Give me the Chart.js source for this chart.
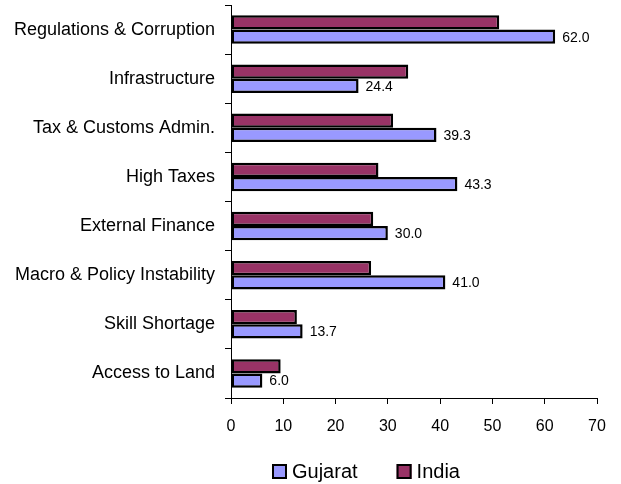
<!DOCTYPE html>
<html>
<head>
<meta charset="utf-8">
<script src="https://cdn.jsdelivr.net/npm/chart.js@4/dist/chart.umd.min.js"></script>
<style>
  html, body { margin: 0; padding: 0; background: #fff; }
  #wrap { width: 621px; height: 484px; }
</style>
</head>
<body>
<div id="wrap"><canvas id="chart" width="621" height="484"></canvas></div>
<script>
const categories = [
  'Regulations & Corruption',
  'Infrastructure',
  'Tax & Customs Admin.',
  'High Taxes',
  'External Finance',
  'Macro & Policy Instability',
  'Skill Shortage',
  'Access to Land'
];
const gujaratValues = [62.0, 24.4, 39.3, 43.3, 30.0, 41.0, 13.7, 6.0];
const indiaValues = [51.3, 33.9, 31.0, 28.2, 27.2, 26.8, 12.6, 9.5];
const xTicks = [0, 10, 20, 30, 40, 50, 60, 70];

const FONT = 'Arial, "Liberation Sans", sans-serif';

// value labels at the end of the Gujarat bars
const barLabels = {
  id: 'barLabels',
  afterDatasetsDraw(chart) {
    const ctx = chart.ctx;
    const meta = chart.getDatasetMeta(1);
    ctx.save();
    ctx.font = '14px ' + FONT;
    ctx.fillStyle = '#000';
    ctx.textAlign = 'left';
    ctx.textBaseline = 'middle';
    meta.data.forEach((bar, i) => {
      ctx.fillText(gujaratValues[i].toFixed(1), bar.x + 7, bar.y + 1);
    });
    ctx.restore();
  }
};

// legend below the axis, Gujarat first
const bottomLegend = {
  id: 'bottomLegend',
  afterDraw(chart) {
    const ctx = chart.ctx;
    const order = [1, 0];
    let x = 272;
    const y = 471;
    ctx.save();
    ctx.font = '20px ' + FONT;
    ctx.textBaseline = 'middle';
    ctx.textAlign = 'left';
    order.forEach((di) => {
      const ds = chart.data.datasets[di];
      ctx.fillStyle = ds.backgroundColor;
      ctx.fillRect(x, y - 7, 15, 15);
      ctx.lineWidth = 2;
      ctx.strokeStyle = '#000';
      ctx.strokeRect(x + 1, y - 6, 13, 13);
      ctx.fillStyle = '#000';
      ctx.fillText(ds.label, x + 20, y + 1);
      x += 20 + ctx.measureText(ds.label).width + 39;
    });
    ctx.restore();
  }
};

new Chart(document.getElementById('chart').getContext('2d'), {
  type: 'bar',
  data: {
    labels: categories,
    datasets: [
      {
        label: 'India',
        data: indiaValues,
        backgroundColor: '#993366',
        borderColor: '#000',
        borderWidth: 2.5,
        borderSkipped: false
      },
      {
        label: 'Gujarat',
        data: gujaratValues,
        backgroundColor: '#9999FF',
        borderColor: '#000',
        borderWidth: 2.5,
        borderSkipped: false
      }
    ]
  },
  options: {
    indexAxis: 'y',
    responsive: false,
    animation: false,
    categoryPercentage: 0.58,
    barPercentage: 1.0,
    layout: { padding: { top: 5, right: 24, left: 0, bottom: 46 } },
    scales: {
      x: {
        min: 0,
        max: 70,
        afterBuildTicks: (scale) => { scale.ticks = xTicks.map(v => ({ value: v })); },
        afterFit: (scale) => { scale.height = 40; scale.paddingLeft = 0; scale.paddingRight = 0; },
        grid: { drawOnChartArea: false, color: '#000', tickLength: 6 },
        border: { color: '#000' },
        ticks: { color: '#000', padding: 13, font: { family: FONT, size: 16 } }
      },
      y: {
        afterFit: (scale) => { scale.width = 231; scale.paddingTop = 0; scale.paddingBottom = 0; },
        grid: { drawOnChartArea: false, color: '#000', tickLength: 6, offset: true },
        border: { color: '#000' },
        ticks: { color: '#000', padding: 10, font: { family: FONT, size: 18 } }
      }
    },
    plugins: {
      legend: { display: false },
      tooltip: { enabled: false }
    }
  },
  plugins: [barLabels, bottomLegend]
});
</script>
</body>
</html>
